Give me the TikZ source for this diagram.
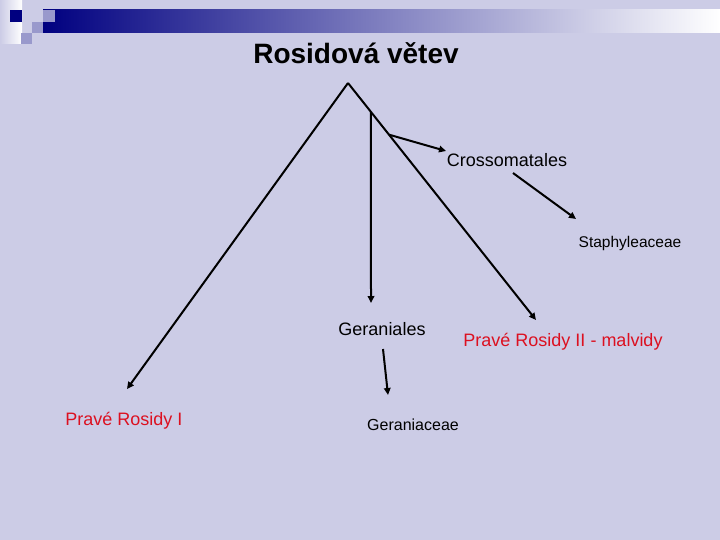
\documentclass[tikz,border=0pt]{standalone}
\usepackage{fontspec}
\setmainfont{Liberation Sans}
\usetikzlibrary{arrows.meta, calc}
\definecolor{slidebg}{RGB}{204,204,230}
\definecolor{slidenavy}{RGB}{0,0,128}
\definecolor{slidelilac}{RGB}{153,153,204}
\definecolor{cladered}{RGB}{220,16,32}
\tikzset{
    every node/.style = {inner sep=1pt, font=\fontsize{18}{20}\selectfont},
    branch/.style = {line width=2pt, -{Triangle[length=7pt, width=6.5pt]}},
    clade/.style = {text=cladered},
    family/.style = {font=\fontsize{16}{18}\selectfont},
    deco/.style = {fill=slidelilac, draw=none}
}

\begin{document}
\begin{tikzpicture}[x=1pt, y=-1pt]
    \fill[slidebg] (0,0) rectangle (720,540);
    \useasboundingbox (0,0) rectangle (720,540);
    \shade[left color=slidebg, right color=white] (0,0) rectangle (22,44);
    \shade[left color=slidenavy, middle color={rgb,255:red,185;green,185;blue,205}, right color=white] (43,10) rectangle (720,33);
    \fill[slidenavy] (10,10) rectangle (22,22);
    \fill[deco] (43,10) rectangle (55,22);
    \fill[deco] (32,22) rectangle (43,33);
    \fill[deco] (21,33) rectangle (32,44);

    \node[font=\fontsize{28}{30}\selectfont\bfseries] (title) at (356,53) {Rosidová větev};
    \coordinate (root) at (348,83);
    \node[clade] (rosI) at (124,421) {Pravé Rosidy I};
    \node[clade] (rosII) at (563,342) {Pravé Rosidy II - malvidy};
    \node (geraniales) at (382,329) {Geraniales};
    \node[family] (geraniaceae) at (413,425) {Geraniaceae};
    \node (crosso) at (507,160) {Crossomatales};
    \node[family, font=\fontsize{15.5}{17}\selectfont] (staphy) at (630,243) {Staphyleaceae};

    \coordinate (rosI-tip) at (127,389);
    \coordinate (rosII-tip) at (536,320);
    \coordinate (ger-fork) at ($(root)!0.122!(rosII-tip)$);
    \coordinate (crosso-fork) at ($(root)!0.218!(rosII-tip)$);
    \coordinate (ger-tip) at (371,303);
    \coordinate (crosso-tip) at (446,151);
    \coordinate (staphy-tail) at (513,173);
    \coordinate (staphy-tip) at (576,219);
    \coordinate (gerfam-tail) at (383,349);
    \coordinate (gerfam-tip) at (388,395);

    \draw[branch] (root) -- (rosI-tip);
    \draw[branch] (root) -- (rosII-tip);
    \draw[branch] (ger-fork) -- (ger-tip);
    \draw[branch] (crosso-fork) -- (crosso-tip);
    \draw[branch] (staphy-tail) -- (staphy-tip);
    \draw[branch] (gerfam-tail) -- (gerfam-tip);
\end{tikzpicture}
\end{document}
